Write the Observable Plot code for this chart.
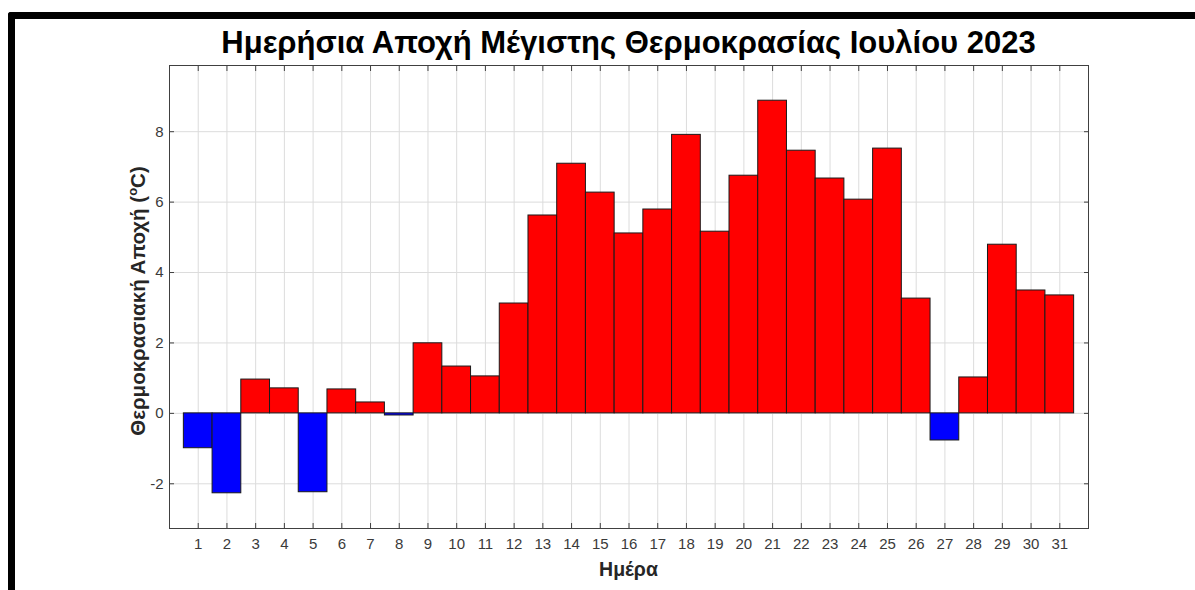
<!DOCTYPE html>
<html>
<head>
<meta charset="utf-8">
<script src="https://cdn.jsdelivr.net/npm/d3@7"></script>
<script src="https://cdn.jsdelivr.net/npm/@observablehq/plot@0.6"></script>
<style>
  html, body { margin: 0; padding: 0; background: #fff; }
  #wrap { position: relative; width: 1195px; height: 590px; overflow: hidden; font-family: "Liberation Sans", Arial, sans-serif; }
  #frameTop { position: absolute; left: 8px; top: 12px; width: 1187px; height: 7px; background: #000; border-top-left-radius: 3px; }
  #frameLeft { position: absolute; left: 8px; top: 12px; width: 7px; height: 578px; background: #000; border-top-left-radius: 3px; }
  #chart { position: absolute; left: 0; top: 0; }
</style>
</head>
<body>
<div id="wrap">
  <div id="chart"></div>
  <div id="frameTop"></div>
  <div id="frameLeft"></div>
</div>
<script>
const titleText = "Ημερήσια Αποχή Μέγιστης Θερμοκρασίας Ιουλίου 2023";
const xLabelText = "Ημέρα";
const yLabelText = "Θερμοκρασιακή Αποχή (";
const yLabelSup = "o";
const yLabelTail = "C)";

const days = d3.range(1, 32);
const anomalies = [
  -0.99, -2.27, 0.96, 0.71, -2.24, 0.68, 0.31, -0.06, 1.99, 1.33,
  1.05, 3.12, 5.62, 7.09, 6.27, 5.11, 5.79, 7.91, 5.16, 6.75,
  8.88, 7.46, 6.67, 6.07, 7.52, 3.26, -0.77, 1.02, 4.79, 3.49,
  3.35
];
const yTicks = [-2, 0, 2, 4, 6, 8];
const xDomain = [0, 32];
const yDomain = [-3.27, 9.88];

const data = days.map((d, i) => ({day: d, value: anomalies[i]}));

const axisColor = "#262626";
const font = "Liberation Sans, Arial, sans-serif";

const plot = Plot.plot({
  width: 1195,
  height: 590,
  marginLeft: 169,
  marginRight: 107,
  marginTop: 65,
  marginBottom: 62,
  style: {fontFamily: font, fontSize: "15px", color: axisColor, background: "transparent", overflow: "visible"},
  x: {domain: xDomain, ticks: days},
  y: {domain: yDomain, ticks: yTicks},
  marks: [
    Plot.gridX(days, {stroke: "#dcdcdc", strokeOpacity: 1}),
    Plot.gridY(yTicks, {stroke: "#dcdcdc", strokeOpacity: 1}),
    Plot.rectY(data, {
      x1: d => d.day - 0.5,
      x2: d => d.day + 0.5,
      y1: 0,
      y2: "value",
      fill: d => d.value >= 0 ? "#ff0000" : "#0000ff",
      stroke: "#1a1a1a",
      strokeWidth: 1
    }),
    Plot.axisX(days, {anchor: "bottom", tickSize: -5, tickPadding: 15, label: null, tickFormat: d => String(d), fill: "#3a3a3a", stroke: "#404040", fontSize: 15}),
    Plot.axisX(days, {anchor: "top", tickSize: -5, tickFormat: () => "", label: null, stroke: "#404040"}),
    Plot.axisY(yTicks, {anchor: "left", tickSize: -5, tickPadding: 11, label: null, tickFormat: d => String(d), fill: "#3a3a3a", stroke: "#404040", fontSize: 15}),
    Plot.axisY(yTicks, {anchor: "right", tickSize: -5, tickFormat: () => "", label: null, stroke: "#404040"}),
    Plot.frame({stroke: "#404040", strokeWidth: 1})
  ]
});

const svg = d3.select(plot);
svg.append("text")
  .attr("x", 628.5).attr("y", 53)
  .attr("text-anchor", "middle")
  .attr("font-family", font)
  .attr("font-weight", "bold")
  .attr("font-size", 31)
  .attr("fill", "#000")
  .text(titleText);

svg.append("text")
  .attr("x", 628.5).attr("y", 576)
  .attr("text-anchor", "middle")
  .attr("font-family", font)
  .attr("font-weight", "bold")
  .attr("font-size", 19.5)
  .attr("fill", axisColor)
  .text(xLabelText);

const yl = svg.append("text")
  .attr("transform", "translate(145,301) rotate(-90)")
  .attr("text-anchor", "middle")
  .attr("font-family", font)
  .attr("font-weight", "bold")
  .attr("font-size", 20.5)
  .attr("fill", axisColor);
yl.append("tspan").text(yLabelText);
yl.append("tspan").attr("font-size", 13).attr("dy", -8).text(yLabelSup);
yl.append("tspan").attr("dy", 8).text(yLabelTail);

document.getElementById("chart").appendChild(plot);
</script>
</body>
</html>
